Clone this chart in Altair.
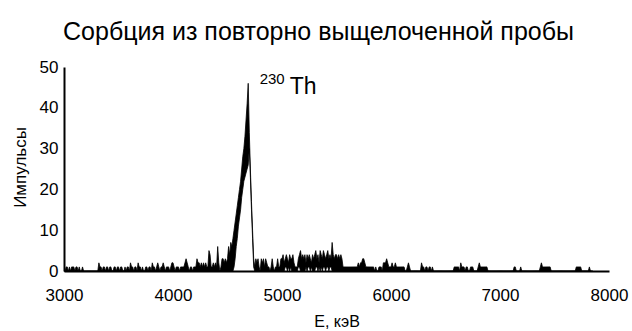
import altair as alt
import pandas as pd

# Spectrum: maximum count per 10 keV bin (one list per 500 keV)
hi_3000 = [0,0,1,1,0,1,0,1,1,1, 0,1,1,0,1,0,0,1,0,0, 0,0,0,0,0,0,0,0,0,0,
           0,0,2,1,1,0,1,1,0,1, 1,0,1,1,0,0,1,1,0,1]
hi_3500 = [1,0,1,1,0,0,1,0,1,1, 0,2,1,1,0,1,1,0,2,1, 1,0,1,0,0,1,1,0,1,1,
           0,2,1,1,0,1,2,1,0,1, 1,2,1,0,1,1,1,0,1,2]
hi_4000 = [2,1,0,1,1,1,0,1,1,1, 1,2,3,2,1,0,1,1,0,1, 1,1,3,2,2,1,2,1,2,1,
           2,1,1,5,4,1,1,2,1,2, 1,6,2,0,1,3,3,2,3,2]
hi_4500 = [3,6,4,7,6,8,10,12,14,16, 18,20,22,25,28,30,33,37,41,46, 34,25,17,10,3,1,3,2,3,1,
           0,3,2,3,1,3,2,1,1,0, 1,3,1,0,1,1,3,1,1,3]
hi_5000 = [3,4,2,3,4,3,2,4,3,3, 4,2,1,1,1,3,4,5,3,4, 3,4,2,4,3,4,3,2,4,3,
           4,5,3,4,2,5,4,3,5,4, 3,4,5,3,4,3,7,4,3,4]
hi_5500 = [4,3,4,3,4,3,1,1,1,1, 1,1,1,1,1,1,1,1,1,1, 2,1,2,2,3,3,2,1,1,1,
           1,1,1,1,1,0,1,0,0,1, 1,1,0,2,2,2,3,2,1,1]
hi_6000 = [1,2,1,1,2,1,1,1,1,1, 1,1,1,0,0,1,2,1,0,0, 0,0,0,0,0,0,0,0,2,1,
           1,0,1,1,0,1,1,0,1,0, 0,0,0,0,0,0,0,0,0,0]
hi_6500 = [0,0,0,0,0,0,0,0,1,1, 1,1,1,0,2,1,1,1,0,1, 1,0,0,1,1,1,0,0,0,0,
           1,2,1,1,1,1,1,1,1,0, 0,0,0,0,0,0,0,0,0,0]
hi_7000 = [0,0,0,0,0,0,0,0,0,0, 0,0,0,1,1,0,0,0,0,1, 0,0,0,0,0,0,0,0,0,0,
           0,0,0,0,0,0,0,1,2,1, 1,1,1,1,1,1,1,0,0,0]
hi_7500 = [0,0,0,0,0,0,0,0,0,0, 0,0,0,0,0,0,0,0,0,0, 1,1,1,1,1,0,0,0,0,0,
           0,0,1,0,0,0]

# Minimum count per bin where it is above zero (keV -> count)
lo_energy = [4560, 4570, 4580, 4590, 4600, 4610, 4620, 4630, 4640, 4650, 4660,
             4670, 4680, 4690, 4700, 4710, 4720, 4730, 4740,
             5030, 5040, 5060, 5080, 5150, 5160, 5220, 5240, 5250, 5270,
             5310, 5320, 5340, 5360, 5380, 5390, 5410, 5420, 5440, 5450]
lo_count = [1, 3, 6, 8, 11, 13, 15, 18, 20, 22, 23,
            24, 25, 26, 30, 23, 15, 8, 1,
            1, 1, 1, 1, 1, 1, 1, 1, 1, 1,
            1, 1, 1, 1, 1, 1, 1, 1, 1, 1]

x_ticks = [3000, 4000, 5000, 6000, 7000, 8000]
y_ticks = [0, 10, 20, 30, 40, 50]

label_energy = [4795, 5070]
label_count = [45.8, 43.3]
label_text = ["230", "Th"]

hi = hi_3000 + hi_3500 + hi_4000 + hi_4500 + hi_5000 + hi_5500 + hi_6000 + hi_6500 + hi_7000 + hi_7500
energy = [3000 + 10 * i for i in range(len(hi))]
lo_map = dict(zip(lo_energy, lo_count))
lo = [lo_map.get(e, 0) for e in energy]

df = pd.DataFrame({"E": energy, "lo": lo, "hi": hi})
lab = pd.DataFrame({"E": label_energy, "v": label_count, "t": label_text})

FONT = "Liberation Sans"

x_enc = alt.X("E:Q", scale=alt.Scale(domain=[3000, 8000], nice=False, zero=False),
              axis=alt.Axis(values=x_ticks, format="d", title="E, кэВ", labelFlush=False,
                            labelPadding=16, titleY=55, titleBaseline="alphabetic",
                            titleFontSize=16))
y_enc = alt.Y("lo:Q", scale=alt.Scale(domain=[0, 50], nice=False),
              axis=alt.Axis(values=y_ticks, title="Импульсы", labelPadding=6,
                            titleX=-44, titleY=100, titleBaseline="middle",
                            titleFontSize=17))

spec = alt.Chart(df).mark_area(color="black", stroke="black", strokeWidth=0.8,
                               interpolate="linear").encode(
    x=x_enc, y=y_enc, y2="hi:Q")

sup = alt.Chart(lab[lab.t == "230"]).mark_text(
    font=FONT, fontSize=15, align="left", baseline="alphabetic", color="black").encode(
    x="E:Q", y="v:Q", text="t:N")
th = alt.Chart(lab[lab.t == "Th"]).mark_text(
    font=FONT, fontSize=23, align="left", baseline="alphabetic", color="black").encode(
    x="E:Q", y="v:Q", text="t:N")

chart = alt.layer(spec, sup, th).properties(
    width=545, height=204,
    title=alt.TitleParams(text="Сорбция из повторно выщелоченной пробы", font=FONT,
                          fontSize=25, fontWeight="normal", color="black",
                          anchor="middle", frame="group", dx=-18, offset=13),
    autosize=alt.AutoSizeParams(type="none"),
    padding={"left": 64, "top": 67, "right": 23, "bottom": 60},
).configure_axis(
    labelFont=FONT, labelFontSize=17, labelColor="black",
    titleFont=FONT, titleFontWeight="normal", titleColor="black",
    domainColor="black", domainWidth=2, ticks=False, tickSize=0, grid=False,
    labelOverlap=False,
).configure_view(stroke="transparent")

chart.save("out.html", embed_options={"renderer": "svg", "actions": False})
